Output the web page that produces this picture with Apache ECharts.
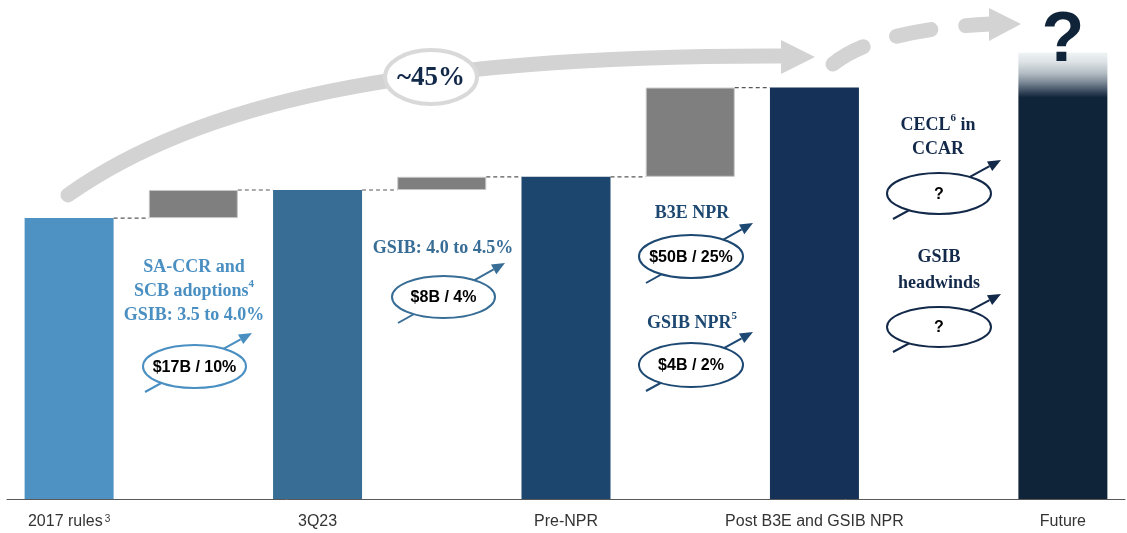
<!DOCTYPE html>
<html><head><meta charset="utf-8">
<script src="https://cdn.jsdelivr.net/npm/echarts@6.0.0/dist/echarts.min.js"></script>
<style>html,body{margin:0;padding:0;background:#fff}#c{width:1127px;height:533px}</style>
</head><body><div id="c"></div>
<script>
// ---- data ($B of capital) ----
const categories = ['2017 rules³', '', '3Q23', '', 'Pre-NPR', '', 'Post B3E and GSIB NPR', '', 'Future'];
const totals = [170, 187, 195, 249, 270];      // main bars
const increments = [17, 8, 54];                // step-ups between main bars
const mainSlots = [0, 2, 4, 6, 8];
const stepSlots = [1, 3, 5];
const stepLabels = ['$17B / 10%', '$8B / 4%', '$50B / 25%', '$4B / 2%', '?', '?'];
const growthLabel = '~45%';

// ---- styles ----
const SERIF = "'Liberation Serif','Times New Roman',serif";
const SANS = "'Liberation Sans',Arial,sans-serif";
const futureFill = new echarts.graphic.LinearGradient(0, 0, 0, 1, [
  {offset: 0, color: '#eef2f3'}, {offset: 0.02, color: '#dde3e6'},
  {offset: 0.045, color: '#b5bec5'}, {offset: 0.065, color: '#7f8c99'},
  {offset: 0.085, color: '#3f4f62'}, {offset: 0.1, color: '#0f2339'},
  {offset: 1, color: '#0f2339'}]);
const mainColors = ['#4e92c3', '#386d95', '#1c466e', '#163157', futureFill];

const base = categories.map(() => '-');
const vals = categories.map(() => '-');
mainSlots.forEach((s, i) => { base[s] = 0; vals[s] = {value: totals[i], itemStyle: {color: mainColors[i]}}; });
stepSlots.forEach((s, i) => {
  base[s] = totals[i];
  vals[s] = {value: increments[i], itemStyle: {color: '#7f7f7f', borderColor: '#c6c6c6', borderWidth: 1}};
});
const connectors = [];
stepSlots.forEach((s, i) => {
  connectors.push([mainSlots[i], totals[i]]);
  connectors.push([s, totals[i + 1]]);
});

const BAR_W = 89;

// ---- annotation helpers ----
function arrow(x1, y1, x2, y2, color) {
  const dx = x2 - x1, dy = y2 - y1, L = Math.hypot(dx, dy), ux = dx / L, uy = dy / L;
  const hl = 13, hw = 11;
  const bx = x2 - ux * hl, by = y2 - uy * hl, nx = -uy, ny = ux;
  return [
    {type: 'line', shape: {x1, y1, x2: bx, y2: by}, style: {stroke: color, lineWidth: 2}},
    {type: 'polygon', shape: {points: [[x2, y2], [bx + nx * hw / 2, by + ny * hw / 2], [bx - nx * hw / 2, by - ny * hw / 2]]}, style: {fill: color}}
  ];
}
function bubble(cx, cy, rx, ry, color, label) {
  return [
    {type: 'ellipse', shape: {cx, cy, rx, ry}, style: {fill: '#fff', stroke: color, lineWidth: 2}},
    {type: 'text', x: cx, y: cy + 1, style: {text: label, fill: '#000', fontSize: 16, fontWeight: 'bold', fontFamily: SANS, align: 'center', verticalAlign: 'middle'}}
  ];
}
function title(cx, cy, text, color, lh) {
  return {type: 'text', x: cx, y: cy, style: {
    text, fill: color, fontSize: 18, fontWeight: 'bold', fontFamily: SERIF, lineHeight: lh || 24,
    align: 'center', verticalAlign: 'middle',
    rich: {s: {fontSize: 11, fontWeight: 'bold', fontFamily: SERIF, fill: color, verticalAlign: 'top'}}
  }};
}
function annotation(t, bub, arr) {
  return [].concat(arrow(...arr.pts, arr.color), bubble(...bub), t);
}

const C1 = '#4a8fc2', C2 = '#386d96', C3 = '#1d4872', C4 = '#13294a';
const gray = '#d3d3d3';
const elements = [
  // long growth arrow
  {type: 'bezierCurve', shape: {x1: 68, y1: 195, cpx1: 195, cpy1: 105, cpx2: 400, cpy2: 55, x2: 782, y2: 56},
   style: {stroke: gray, lineWidth: 15, lineCap: 'round', fill: null}},
  {type: 'polygon', shape: {points: [[781, 40], [815, 57], [781, 74]]}, style: {fill: gray}},
  {type: 'bezierCurve', shape: {x1: 833, y1: 64, cpx1: 875, cpy1: 30, x2: 990, y2: 24},
   style: {stroke: gray, lineWidth: 15, lineCap: 'round', lineDash: [35, 35], fill: null}},
  {type: 'polygon', shape: {points: [[989, 8], [1021, 24], [989, 41]]}, style: {fill: gray}},
  {type: 'ellipse', shape: {cx: 431, cy: 77, rx: 46, ry: 27}, style: {fill: '#fff', stroke: '#d9d9d9', lineWidth: 4}},
  {type: 'text', x: 431, y: 78, style: {text: growthLabel, fill: '#13294a', fontSize: 27, fontWeight: 'bold', fontFamily: SERIF, align: 'center', verticalAlign: 'middle'}},
  {type: 'text', x: 1063, y: 42, z: 100, style: {text: '?', fill: '#0f2339', fontSize: 70, fontWeight: 'bold', fontFamily: SANS, align: 'center', verticalAlign: 'middle'}},
  ...annotation(title(194, 291, 'SA-CCR and\nSCB adoptions{s|4}\nGSIB: 3.5 to 4.0%', C1), [194.5, 366.5, 51.5, 21.5, C1, stepLabels[0]], {pts: [145, 392, 252, 333], color: C1}),
  ...annotation(title(443, 248, 'GSIB: 4.0 to 4.5%', C2), [443.5, 297, 51.5, 21, C2, stepLabels[1]], {pts: [398, 323, 505, 263], color: C2}),
  ...annotation(title(692, 213, 'B3E NPR', C3), [691, 256.5, 52, 21.5, C3, stepLabels[2]], {pts: [646, 283, 753, 223], color: C3}),
  ...annotation(title(692, 323, 'GSIB NPR{s|5}', C3), [691, 365, 52, 22, C3, stepLabels[3]], {pts: [646, 391, 753, 332], color: C3}),
  ...annotation(title(938, 137, 'CECL{s|6} in\nCCAR', C4), [939, 193.5, 52, 20.5, C4, stepLabels[4]], {pts: [893, 219, 1001, 160], color: C4}),
  ...annotation(title(939, 270, 'GSIB\nheadwinds', C4, 26), [939, 327, 52, 20, C4, stepLabels[5]], {pts: [893, 352, 1001, 294], color: C4})
];

const chart = echarts.init(document.getElementById('c'), null, {renderer: 'canvas'});
chart.setOption({
  animation: false,
  grid: {left: 7, right: 2, top: 0, bottom: 34, containLabel: false},
  xAxis: {
    type: 'category', data: categories,
    axisLine: {lineStyle: {color: '#595959', width: 1}},
    axisTick: {show: false},
    axisLabel: {
      interval: 0, color: '#333', fontSize: 16, fontFamily: SANS, margin: 15,
      formatter: v => v.replace('³', '{s|3}'),
      rich: {s: {fontSize: 10, color: '#333', fontFamily: SANS, verticalAlign: 'top', padding: [0, 0, 0, 2]}}
    }
  },
  yAxis: {type: 'value', min: 0, max: 302, show: false, splitLine: {show: false}},
  series: [
    {type: 'bar', stack: 'w', data: base, barWidth: BAR_W, itemStyle: {color: 'rgba(0,0,0,0)'}, silent: true},
    {type: 'bar', stack: 'w', data: vals, barWidth: BAR_W},
    {type: 'custom', data: connectors, encode: {x: 0, y: 1}, z: 3,
     renderItem(params, api) {
       const p = api.coord([api.value(0), api.value(1)]);
       const slot = api.size([1, 0])[0];
       return {type: 'line', shape: {x1: p[0] + BAR_W / 2, y1: p[1], x2: p[0] + slot - BAR_W / 2, y2: p[1]},
               style: {stroke: '#595959', lineWidth: 1.2, lineDash: [4, 3]}};
     }}
  ],
  graphic: {elements}
});
</script></body></html>
